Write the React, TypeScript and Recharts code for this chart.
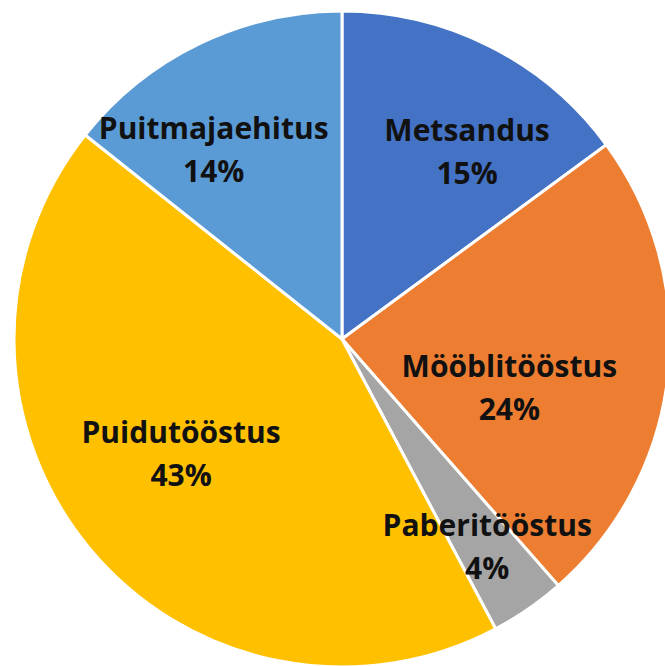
import { PieChart, Pie, Cell } from 'recharts'

const sectors = ['Metsandus', 'Mööblitööstus', 'Paberitööstus', 'Puidutööstus', 'Puitmajaehitus']
// shares; labels show them rounded
const shares = [14.9, 23.6, 3.7, 43.4, 14.3]
const colors = ['#4472C4', '#ED7D31', '#A5A5A5', '#FFC000', '#5B9BD5']

// label placement, tweaked by eye (fraction of radius, degrees clockwise from slice middle)
const labelRadius = [0.69, 0.53, 0.77, 0.6, 0.7]
const labelTurn = [6.7, 9.5, -0.5, 4.6, -8.2]

const RAD = Math.PI / 180

const renderLabel = (props: any) => {
  const { cx, cy, midAngle, outerRadius, index } = props
  const r = outerRadius * labelRadius[index]
  const a = (midAngle - labelTurn[index]) * RAD
  const x = cx + r * Math.cos(a)
  const y = cy - r * Math.sin(a)
  return (
    <text
      x={x}
      y={y}
      textAnchor="middle"
      fill="#111"
      style={{ fontFamily: 'Open Sans', fontWeight: 700, fontSize: 30 }}
    >
      <tspan x={x} y={y - 21} dominantBaseline="central">{sectors[index]}</tspan>
      <tspan x={x} y={y + 22} dominantBaseline="central">{Math.round(shares[index])}%</tspan>
    </text>
  )
}

export default function App() {
  const data = sectors.map((name, i) => ({ name, value: shares[i] }))

  return (
    <div style={{ position: 'absolute', left: 0, top: 0, width: 665, height: 666, background: '#fff' }}>
      <PieChart width={665} height={666} margin={{ top: 0, right: 0, bottom: 0, left: 0 }}>
        <Pie
          data={data}
          dataKey="value"
          nameKey="name"
          cx={342}
          cy={339}
          outerRadius={328}
          startAngle={90}
          endAngle={-270}
          stroke="#fff"
          strokeWidth={3}
          label={renderLabel}
          labelLine={false}
          isAnimationActive={false}
        >
          {data.map((d, i) => (
            <Cell key={d.name} fill={colors[i]} />
          ))}
        </Pie>
      </PieChart>
    </div>
  )
}
